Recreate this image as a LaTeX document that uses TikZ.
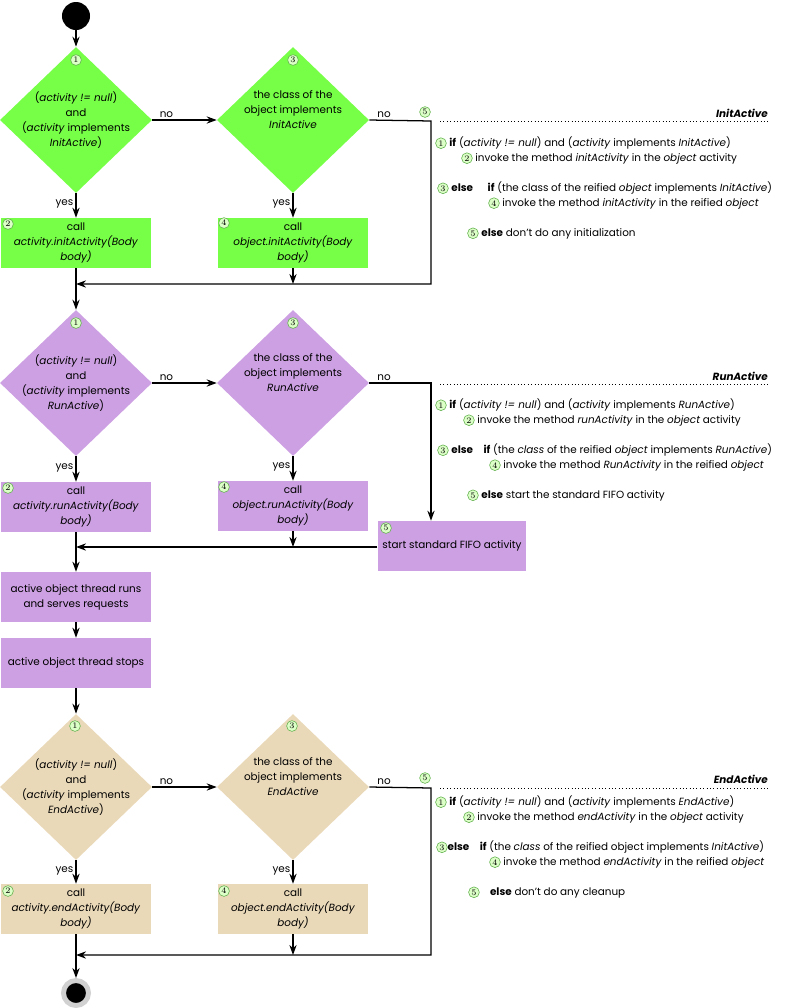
\documentclass[tikz,border=0pt]{standalone}
\usepackage{fontspec}
\setsansfont{Poppins}
\usepackage{xcolor}
\usepackage{tikz}
\usetikzlibrary{arrows.meta, positioning, shapes.geometric}
\definecolor{initfill}{HTML}{76FF46}
\definecolor{runfill}{HTML}{CCA0E2}
\definecolor{endfill}{HTML}{EAD9B9}
\definecolor{numfill}{HTML}{DCFFC8}
\definecolor{numline}{HTML}{5FAF4A}
\newcommand{\txtfont}{\sffamily\fontsize{7.4}{10.6}\selectfont}
\tikzset{
	cond/.style={diamond, fill=#1, minimum width=3.8cm, minimum height=3.65cm,
		inner sep=-5pt, align=center, font=\txtfont},
	act/.style={rectangle, fill=#1, minimum width=3.75cm, minimum height=1.25cm,
		inner sep=2pt, align=center, font=\txtfont},
	numc/.style={circle, draw=numline, line width=0.4pt, fill=numfill, inner sep=0pt,
		minimum size=0.27cm, font=\rmfamily\fontsize{6}{6}\selectfont},
	arr/.style={-{Stealth[length=2.5mm, width=1.8mm, inset=0.8mm]}, line width=0.9pt},
	lbl/.style={font=\txtfont, inner sep=1.5pt},
	legend/.style={anchor=base west, inner sep=0pt, font=\txtfont},
	title/.style={anchor=base east, inner sep=0pt, font=\txtfont\bfseries\itshape},
}
\newcommand{\cnum}[1]{\tikz[baseline=(cn.base)]\node[numc] (cn) {#1};}

\begin{document}
\begin{tikzpicture}[x=0.025cm, y=-0.025cm]
	\useasboundingbox (0,0) rectangle (800,1008);
	\node[circle, fill=black, minimum size=0.7cm, inner sep=0pt] (start) at (76,16) {};

	% InitActive
	\node[cond=initfill] (initA) at (76,120) {(\textit{activity != null})\\and\\(\textit{activity} implements\\\textit{InitActive})};
	\node[cond=initfill] (initB) at (293,120) {the class of the\\object implements\\\textit{InitActive}\\[4pt]};
	\node[act=initfill] (initC) at (76,243) {call\\\textit{activity.initActivity(Body}\\\textit{body)}};
	\node[act=initfill] (initD) at (293,243) {call\\\textit{object.initActivity(Body}\\\textit{body)}};
	\node[numc] (initN1) at (76,60) {1};
	\node[numc] (initN3) at (293,60) {3};
	\node[numc] (initN2) at (8,224) {2};
	\node[numc] (initN4) at (224,223) {4};
	\node[numc] (initN5) at (425,112) {5};
	\coordinate (initK) at (431,121);
	\coordinate (initJ) at (76,284);
	\draw[arr] (start) -- (initA);
	\draw[arr] (initA.east) -- node[lbl, above, pos=0.22] {no} (initB.west);
	\draw[arr] (initA.south) -- node[lbl, left, pos=0.45] {yes} (initC.north);
	\draw[arr] (initB.south) -- node[lbl, left, pos=0.45] {yes} (initD.north);
	\draw[arr] (initB.east) -- node[lbl, above, pos=0.24] {no} (initK) |- (initJ);
	\draw[arr] (initD.south) -- (initD.south |- initJ);
	\node[title] (initT) at (768,117) {InitActive};
	\draw[dotted] (440,121) -- (768,121);
	\node[legend] (initL1) at (435,146) {\cnum{1} \textbf{if} (\textit{activity != null}) and (\textit{activity} implements \textit{InitActive})};
	\node[legend] (initL2) at (461,161) {\cnum{2} invoke the method \textit{initActivity} in the \textit{object} activity};
	\node[legend] (initL3) at (437,191) {\cnum{3} \textbf{else}\hspace{1.4em}\textbf{if} (the class of the reified \textit{object} implements \textit{InitActive})};
	\node[legend] (initL4) at (488,206) {\cnum{4} invoke the method \textit{initActivity} in the reified \textit{object}};
	\node[legend] (initL5) at (467,236) {\cnum{5} \textbf{else} don't do any initialization};

	% RunActive
	\node[cond=runfill] (runA) at (76,383) {(\textit{activity != null})\\and\\(\textit{activity} implements\\\textit{RunActive})};
	\node[cond=runfill] (runB) at (293,383) {the class of the\\object implements\\\textit{RunActive}\\[4pt]};
	\node[act=runfill] (runC) at (76,507) {call\\\textit{activity.runActivity(Body}\\\textit{body)}};
	\node[act=runfill] (runD) at (293,506) {call\\\textit{object.runActivity(Body}\\\textit{body)}};
	\node[act=runfill, minimum width=3.72cm] (runE) at (452,546) {start standard FIFO activity};
	\node[act=runfill] (runF) at (76,597) {active object thread runs\\and serves requests};
	\node[act=runfill] (runG) at (76,663) {active object thread stops};
	\node[numc] (runN1) at (76,323) {1};
	\node[numc] (runN3) at (293,323) {3};
	\node[numc] (runN2) at (8,488) {2};
	\node[numc] (runN4) at (224,487) {4};
	\node[numc] (runN5) at (386,528) {5};
	\coordinate (runK) at (431,383);
	\coordinate (runJ) at (76,547);
	\draw[arr] (initC.south) -- (runA.north);
	\draw[arr] (runA.east) -- node[lbl, above, pos=0.22] {no} (runB.west);
	\draw[arr] (runA.south) -- node[lbl, left, pos=0.45] {yes} (runC.north);
	\draw[arr] (runB.south) -- node[lbl, left, pos=0.45] {yes} (runD.north);
	\draw[arr] (runB.east) -- node[lbl, above, pos=0.24] {no} (runK) -- (runK |- runE.north);
	\draw[arr] (runE.west |- runJ) -- (runJ);
	\draw[arr] (runD.south) -- (runD.south |- runJ);
	\draw[arr] (runC.south) -- (runF.north);
	\draw[arr] (runF) -- (runG);
	\node[title] (runT) at (768,380) {RunActive};
	\draw[dotted] (440,384) -- (768,384);
	\node[legend] (runL1) at (435,408) {\cnum{1} \textbf{if} (\textit{activity != null}) and (\textit{activity} implements \textit{RunActive})};
	\node[legend] (runL2) at (463,423) {\cnum{2} invoke the method \textit{runActivity} in the \textit{object} activity};
	\node[legend] (runL3) at (437,453) {\cnum{3} \textbf{else}\quad\textbf{if} (the \textit{class} of the reified \textit{object} implements \textit{RunActive})};
	\node[legend] (runL4) at (489,468) {\cnum{4} invoke the method \textit{RunActivity} in the reified \textit{object}};
	\node[legend] (runL5) at (467,498) {\cnum{5} \textbf{else} start the standard FIFO activity};

	% EndActive
	\node[cond=endfill] (endA) at (76,787) {(\textit{activity != null})\\and\\(\textit{activity} implements\\\textit{EndActive})};
	\node[cond=endfill] (endB) at (293,787) {the class of the\\object implements\\\textit{EndActive}\\[4pt]};
	\node[act=endfill] (endC) at (76,909) {call\\\textit{activity.endActivity(Body}\\\textit{body)}};
	\node[act=endfill] (endD) at (293,909) {call\\\textit{object.endActivity(Body}\\\textit{body)}};
	\node[numc] (endN1) at (75,726) {1};
	\node[numc] (endN3) at (292,726) {3};
	\node[numc] (endN2) at (8,891) {2};
	\node[numc] (endN4) at (224,891) {4};
	\node[numc] (endN5) at (425,778) {5};
	\node[circle, fill=black, draw=black!18, line width=3.5pt, minimum size=0.625cm, inner sep=0pt] (stop) at (76,993) {};
	\coordinate (endK) at (431,788);
	\coordinate (endJ) at (76,955);
	\draw[arr] (runG) -- (endA);
	\draw[arr] (endA.east) -- node[lbl, above, pos=0.22] {no} (endB.west);
	\draw[arr] (endA.south) -- node[lbl, left, pos=0.45] {yes} (endC.north);
	\draw[arr] (endB.south) -- node[lbl, left, pos=0.45] {yes} (endD.north);
	\draw[arr] (endB.east) -- node[lbl, above, pos=0.24] {no} (endK) |- (endJ);
	\draw[arr] (endD.south) -- (endD.south |- endJ);
	\draw[arr] (endC.south) -- (stop);
	\node[title] (endT) at (768,783) {EndActive};
	\draw[dotted] (440,788) -- (768,788);
	\node[legend] (endL1) at (435,805) {\cnum{1} \textbf{if} (\textit{activity != null}) and (\textit{activity} implements \textit{EndActive})};
	\node[legend] (endL2) at (463,820) {\cnum{2} invoke the method \textit{endActivity} in the \textit{object} activity};
	\node[legend] (endL3) at (436,850) {\cnum{3}\textbf{else}\quad\textbf{if} (the \textit{class} of the reified object implements \textit{InitActive})};
	\node[legend] (endL4) at (489,865) {\cnum{4} invoke the method \textit{endActivity} in the reified \textit{object}};
	\node[legend] (endL5) at (468,895) {\cnum{5}\quad\textbf{else} don't do any cleanup};
\end{tikzpicture}
\end{document}
